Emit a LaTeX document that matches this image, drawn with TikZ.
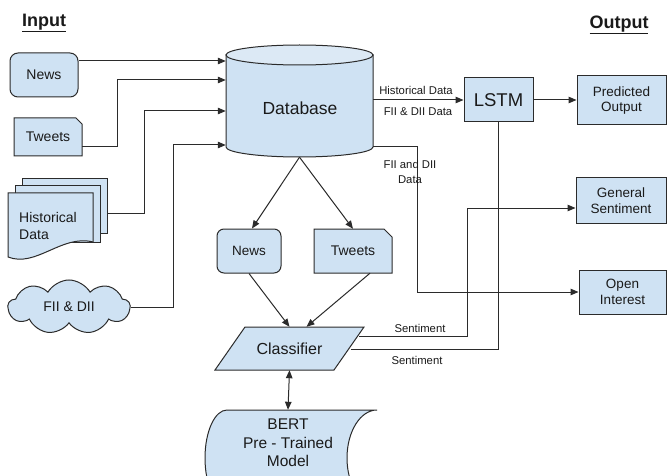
\documentclass[tikz,border=0pt]{standalone}
\usepackage{fontspec}
\setmainfont{Liberation Sans}
\usetikzlibrary{arrows.meta,shapes.symbols}
\definecolor{boxfill}{HTML}{CFE2F3}
\definecolor{boxtop}{HTML}{DCE9F5}
\definecolor{edge}{HTML}{2B2B2B}
\definecolor{txt}{HTML}{1A1A1A}
\begin{document}
\begin{tikzpicture}[x=1pt,y=-1pt,
  box/.style={draw=edge, fill=boxfill, line width=1pt, text=txt, inner sep=0pt, align=center},
  ghost/.style={inner sep=0pt, text=txt, align=center},
  conn/.style={draw=edge, line width=1pt},
  arr/.style={conn, -{Triangle[length=8pt,width=6.5pt]}},
  lbl/.style={text=txt, font=\fontsize{11.3}{14.5}\selectfont, inner sep=0pt, align=center},
  fa/.style={font=\fontsize{14}{17}\selectfont},
  fb/.style={font=\fontsize{13.5}{15.5}\selectfont},
  title/.style={ghost, font=\bfseries\fontsize{18}{20}\selectfont},
]
\useasboundingbox (0,0) rectangle (667,476);
\fill[white] (0,0) rectangle (667,476);

% titles
\node[title] (tin) at (44,23) {\underline{Input}};
\node[title] (tout) at (619,25) {\underline{Output}};

% inputs
\node[box, fa, rounded corners=8pt, minimum width=68pt, minimum height=44pt] (inews) at (44,75) {News};

\draw[conn, fill=boxfill] (14,118) -- (76,118) -- (82,124) -- (82,156) -- (14,156) -- cycle;
\node[ghost, fa, minimum width=68pt, minimum height=38pt] (itw) at (48,137) {\raisebox{-2pt}{Tweets}};

\draw[conn, fill=boxfill] (22,179) rectangle (107,233);
\draw[conn, fill=boxfill] (15,186) rectangle (100,242);
\draw[conn, fill=boxfill] (8,193) -- (93,193) -- (93,242) .. controls (62,234) and (36,268) .. (8,257) -- cycle;
\node[ghost, fa, align=left] (ihist) at (48,226) {Historical\\Data};
\coordinate (histout) at (107,213);

\node[box, fa, cloud, cloud puffs=9, cloud puff arc=120, aspect=2.2, minimum width=122pt, minimum height=54pt] (ifii) at (69,307) {FII \& DII};

% database cylinder
\draw[conn, fill=boxfill] (373,55) -- (373,147) arc[start angle=0, end angle=180, x radius=73.5, y radius=10] -- (226,55) -- cycle;
\draw[conn, fill=boxtop] (299.5,55) ellipse[x radius=73.5, y radius=10];
\node[ghost, minimum width=147pt, minimum height=112pt] (db) at (299.5,101) {};
\node[ghost, font=\fontsize{17.5}{20}\selectfont] (dbtxt) at (300,108) {Database};

% LSTM and outputs
\node[box, font=\fontsize{18.5}{21}\selectfont, minimum width=69pt, minimum height=44pt] (lstm) at (498.5,100) {LSTM};
\node[box, fb, minimum width=89pt, minimum height=49pt] (pred) at (621.5,100.5) {Predicted\\Output};
\node[box, fb, minimum width=90pt, minimum height=45pt] (gen) at (621,200.5) {General\\Sentiment};
\node[box, fb, minimum width=87pt, minimum height=44pt] (oi) at (622.5,292) {Open\\Interest};

% middle news / tweets
\node[box, font=\fontsize{13.5}{16}\selectfont, rounded corners=7pt, minimum width=64pt, minimum height=44pt] (mnews) at (249,251) {News};
\draw[conn, fill=boxfill] (314,229) -- (384,229) -- (392,237) -- (392,273) -- (314,273) -- cycle;
\node[ghost, fa, minimum width=78pt, minimum height=44pt] (mtw) at (353,251) {\raisebox{-2pt}{Tweets}};

% classifier
\draw[conn, fill=boxfill] (245,327) -- (364,327) -- (334,370) -- (215,370) -- cycle;
\node[ghost, font=\fontsize{16}{19}\selectfont, minimum width=149pt, minimum height=43pt] (cls) at (289.5,348.5) {Classifier};
\coordinate (cs1) at (359,336);
\coordinate (cs2) at (351,349);

% BERT
\begin{scope}
\clip (0,0) rectangle (667,476);
\draw[conn, fill=boxfill] (227,410) -- (377,410)
  arc[start angle=270, end angle=90, x radius=30, y radius=48]
  -- (227,506)
  arc[start angle=90, end angle=270, x radius=22, y radius=48] -- cycle;
\end{scope}
\node[ghost, font=\fontsize{15.5}{18.5}\selectfont, minimum height=66pt] (bert) at (288,443) {BERT\\Pre - Trained\\Model};

% connectors into database
\draw[arr] (inews.east |- 0,61) -- (db.west |- 0,61);
\draw[arr] (itw.east |- 0,147) -| (117,80) -- (db.west |- 0,80);
\draw[arr] (histout) -| (144,111) -- (db.west |- 0,111);
\draw[arr] (ifii.east) -| (173,145) -- (db.west |- 0,145);

% database to LSTM
\draw[arr] (db.east |- lstm) -- (lstm.west);
\node[lbl] (l1) at (416,90) {Historical Data};
\node[lbl] (l2) at (418,112) {FII \& DII Data};
\draw[arr] (lstm.east) -- (lstm.east -| pred.west);

% database to open interest
\draw[arr] (db.east |- 0,147) -- (417,147) |- (oi.west);
\node[lbl] (l3) at (410,172) {FII and DII\\Data};

% database to middle boxes
\draw[arr] (db.south) -- ([xshift=3pt]mnews.north);
\draw[arr] (db.south) -- (mtw.north);
\draw[arr] (mnews.south) -- (cls.north);
\draw[arr] ([xshift=17pt]mtw.south) -- ([xshift=17pt]cls.north);

% classifier outputs
\draw[arr] (cs1) -- (467,336) |- (gen.west |- 0,208);
\node[lbl] (l4) at (420,328) {Sentiment};
\draw[conn] (cs2) -| (lstm.south);
\node[lbl] (l5) at (417,360) {Sentiment};

% classifier <-> BERT
\draw[conn, {Triangle[length=8pt,width=6.5pt]}-{Triangle[length=8pt,width=6.5pt]}] (cls.south) -- (bert.north);
\end{tikzpicture}
\end{document}
